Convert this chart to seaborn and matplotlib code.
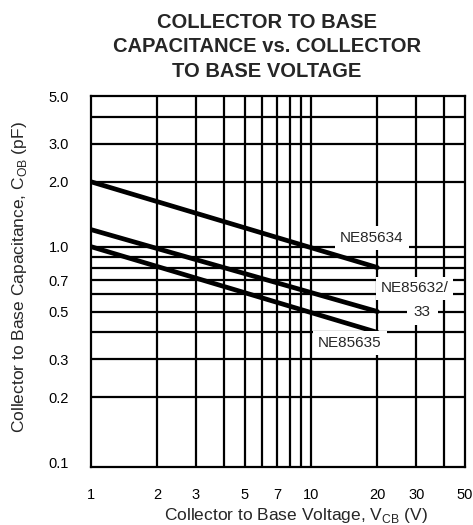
import matplotlib
matplotlib.use("Agg")
import matplotlib.pyplot as plt
import matplotlib.ticker as mticker
import pandas as pd
import seaborn as sns

# Data
vcb = [1, 20]
cob_ne85634 = [2.0, 0.8]
cob_ne85632 = [1.2, 0.5]
cob_ne85635 = [1.0, 0.4]

x_ticks = [1, 2, 3, 5, 7, 10, 20, 30, 50]
x_tick_labels = ["1", "2", "3", "5", "7", "10", "20", "30", "50"]
y_ticks = [0.1, 0.2, 0.3, 0.5, 0.7, 1.0, 2.0, 3.0, 5.0]
y_tick_labels = ["0.1", "0.2", "0.3", "0.5", "0.7", "1.0", "2.0", "3.0", "5.0"]
x_grid = [2, 3, 4, 5, 6, 7, 8, 9, 10, 20, 30, 40]
y_grid = [0.2, 0.3, 0.4, 0.5, 0.6, 0.7, 0.8, 0.9, 1.0, 2.0, 3.0, 4.0]

df = pd.DataFrame({
    "vcb": vcb * 3,
    "cob": cob_ne85634 + cob_ne85632 + cob_ne85635,
    "part": ["NE85634"] * 2 + ["NE85632/33"] * 2 + ["NE85635"] * 2,
})

sns.set_style("white")
plt.rcParams["font.family"] = ["Liberation Sans", "DejaVu Sans"]

fig = plt.figure(figsize=(4.73, 5.25), dpi=100)
ax = fig.add_axes([91 / 473, 1 - 467 / 525, 374 / 473, 371 / 525])

sns.lineplot(data=df, x="vcb", y="cob", hue="part", units="part", estimator=None,
             palette=["black"] * 3, linewidth=3.4, legend=False, ax=ax, zorder=3)

ax.set_xscale("log")
ax.set_yscale("log")
ax.set_xlim(1, 50)
ax.set_ylim(0.095, 5.0)

ax.xaxis.set_major_locator(mticker.FixedLocator(x_ticks))
ax.xaxis.set_major_formatter(mticker.FixedFormatter(x_tick_labels))
ax.yaxis.set_major_locator(mticker.FixedLocator(y_ticks))
ax.yaxis.set_major_formatter(mticker.FixedFormatter(y_tick_labels))
ax.xaxis.set_minor_locator(mticker.FixedLocator(x_grid))
ax.yaxis.set_minor_locator(mticker.FixedLocator(y_grid))
ax.xaxis.set_minor_formatter(mticker.NullFormatter())
ax.yaxis.set_minor_formatter(mticker.NullFormatter())
# keep grid lines that sit on labelled ticks too
ax.xaxis.remove_overlapping_locs = False
ax.yaxis.remove_overlapping_locs = False

ax.grid(False, which="major")
ax.grid(True, which="minor", color="black", linewidth=1.6)
ax.set_axisbelow(True)
ax.tick_params(which="both", length=0, labelsize=10.5, colors="black")
ax.tick_params(axis="x", pad=15)
ax.tick_params(axis="y", pad=16)

for s in ax.spines.values():
    s.set_color("black")
    s.set_linewidth(1.6)

box = dict(facecolor="white", edgecolor="none", pad=3.5)
ax.text(18.9, 1.1, "NE85634", ha="center", va="center", fontsize=11, bbox=box, zorder=4)
ax.text(29.5, 0.64, "NE85632/", ha="center", va="center", fontsize=11, bbox=box, zorder=4)
ax.text(32, 0.5, "33", ha="center", va="center", fontsize=11,
        bbox=dict(facecolor="white", edgecolor="none", pad=5), zorder=4)
ax.text(15.0, 0.357, "NE85635", ha="center", va="center", fontsize=11, bbox=box, zorder=4)

ax.set_xlabel("Collector to Base Voltage, V$_\\mathregular{CB}$ (V)", fontsize=12.5, va="top")
ax.xaxis.set_label_coords(0.548, -0.105)
ax.set_ylabel("Collector to Base Capacitance, C$_\\mathregular{OB}$ (pF)", fontsize=12.5)
ax.yaxis.set_label_coords(-0.166, 0.512)

ax.set_title("COLLECTOR TO BASE\nCAPACITANCE vs. COLLECTOR\nTO BASE VOLTAGE",
             fontsize=14.5, fontweight="bold", x=0.47, y=1.03, linespacing=1.35)

fig.savefig("out.png", dpi=100)
